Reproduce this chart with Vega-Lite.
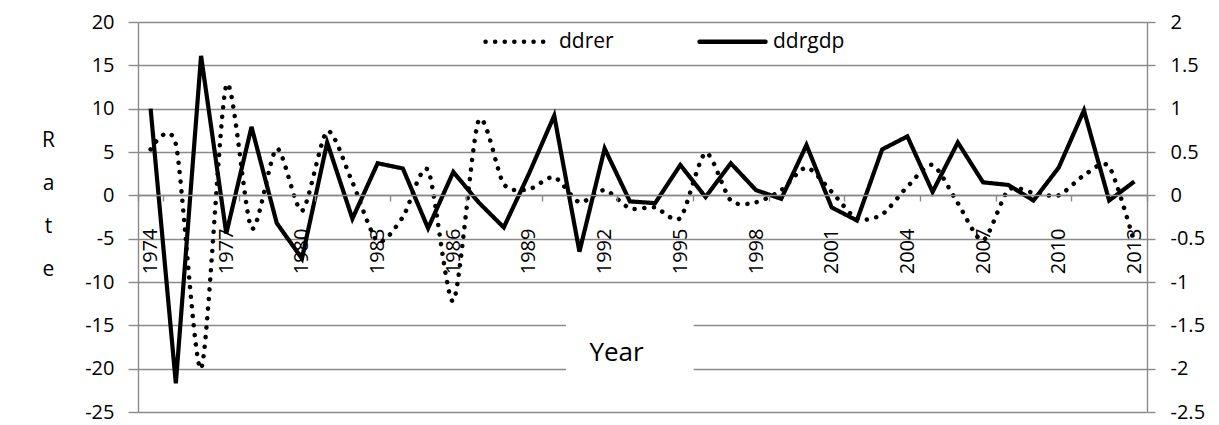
{
  "$schema": "https://vega.github.io/schema/vega-lite/v6.json",
  "width": 1009,
  "height": 390,
  "autosize": {"type": "none"},
  "padding": {"left": 138, "top": 22, "right": 72, "bottom": 13},
  "background": "white",
  "config": {
    "font": "Open Sans",
    "view": {"stroke": null},
    "axis": {
      "labelFont": "Open Sans",
      "labelFontSize": 20,
      "labelColor": "black",
      "titleFont": "Open Sans",
      "titleColor": "black",
      "titleFontWeight": "normal",
      "domainColor": "#8a8a8a",
      "tickColor": "#8a8a8a",
      "gridColor": "#8a8a8a",
      "gridOpacity": 1,
      "domainWidth": 1.4,
      "tickWidth": 1.4,
      "gridWidth": 1.4
    },
    "legend": {"labelFont": "Open Sans"}
  },
  "data": {
    "values": [
      {"year": 1974, "series": "ddrer", "value": 5.3}, {"year": 1974, "series": "ddrgdp", "value": 1.0},
      {"year": 1975, "series": "ddrer", "value": 5.9}, {"year": 1975, "series": "ddrgdp", "value": -2.17},
      {"year": 1976, "series": "ddrer", "value": -20.0}, {"year": 1976, "series": "ddrgdp", "value": 1.61},
      {"year": 1977, "series": "ddrer", "value": 12.7}, {"year": 1977, "series": "ddrgdp", "value": -0.44},
      {"year": 1978, "series": "ddrer", "value": -3.8}, {"year": 1978, "series": "ddrgdp", "value": 0.79},
      {"year": 1979, "series": "ddrer", "value": 5.4}, {"year": 1979, "series": "ddrgdp", "value": -0.32},
      {"year": 1980, "series": "ddrer", "value": -1.8}, {"year": 1980, "series": "ddrgdp", "value": -0.73},
      {"year": 1981, "series": "ddrer", "value": 7.4}, {"year": 1981, "series": "ddrgdp", "value": 0.61},
      {"year": 1982, "series": "ddrer", "value": 1.5}, {"year": 1982, "series": "ddrgdp", "value": -0.27},
      {"year": 1983, "series": "ddrer", "value": -5.3}, {"year": 1983, "series": "ddrgdp", "value": 0.37},
      {"year": 1984, "series": "ddrer", "value": -2.5}, {"year": 1984, "series": "ddrgdp", "value": 0.31},
      {"year": 1985, "series": "ddrer", "value": 2.9}, {"year": 1985, "series": "ddrgdp", "value": -0.38},
      {"year": 1986, "series": "ddrer", "value": -12.2}, {"year": 1986, "series": "ddrgdp", "value": 0.27},
      {"year": 1987, "series": "ddrer", "value": 8.6}, {"year": 1987, "series": "ddrgdp", "value": -0.08},
      {"year": 1988, "series": "ddrer", "value": 1.3}, {"year": 1988, "series": "ddrgdp", "value": -0.37},
      {"year": 1989, "series": "ddrer", "value": 0.7}, {"year": 1989, "series": "ddrgdp", "value": 0.25},
      {"year": 1990, "series": "ddrer", "value": 2.1}, {"year": 1990, "series": "ddrgdp", "value": 0.92},
      {"year": 1991, "series": "ddrer", "value": -0.8}, {"year": 1991, "series": "ddrgdp", "value": -0.65},
      {"year": 1992, "series": "ddrer", "value": 0.6}, {"year": 1992, "series": "ddrgdp", "value": 0.54},
      {"year": 1993, "series": "ddrer", "value": -1.5}, {"year": 1993, "series": "ddrgdp", "value": -0.07},
      {"year": 1994, "series": "ddrer", "value": -1.4}, {"year": 1994, "series": "ddrgdp", "value": -0.09},
      {"year": 1995, "series": "ddrer", "value": -2.6}, {"year": 1995, "series": "ddrgdp", "value": 0.35},
      {"year": 1996, "series": "ddrer", "value": 4.9}, {"year": 1996, "series": "ddrgdp", "value": -0.02},
      {"year": 1997, "series": "ddrer", "value": -0.6}, {"year": 1997, "series": "ddrgdp", "value": 0.37},
      {"year": 1998, "series": "ddrer", "value": -0.8}, {"year": 1998, "series": "ddrgdp", "value": 0.06},
      {"year": 1999, "series": "ddrer", "value": 0.6}, {"year": 1999, "series": "ddrgdp", "value": -0.04},
      {"year": 2000, "series": "ddrer", "value": 3.2}, {"year": 2000, "series": "ddrgdp", "value": 0.58},
      {"year": 2001, "series": "ddrer", "value": 0.4}, {"year": 2001, "series": "ddrgdp", "value": -0.14},
      {"year": 2002, "series": "ddrer", "value": -2.7}, {"year": 2002, "series": "ddrgdp", "value": -0.29},
      {"year": 2003, "series": "ddrer", "value": -2.2}, {"year": 2003, "series": "ddrgdp", "value": 0.53},
      {"year": 2004, "series": "ddrer", "value": 1.0}, {"year": 2004, "series": "ddrgdp", "value": 0.68},
      {"year": 2005, "series": "ddrer", "value": 3.5}, {"year": 2005, "series": "ddrgdp", "value": 0.04},
      {"year": 2006, "series": "ddrer", "value": -0.9}, {"year": 2006, "series": "ddrgdp", "value": 0.61},
      {"year": 2007, "series": "ddrer", "value": -5.2}, {"year": 2007, "series": "ddrgdp", "value": 0.15},
      {"year": 2008, "series": "ddrer", "value": 0.6}, {"year": 2008, "series": "ddrgdp", "value": 0.12},
      {"year": 2009, "series": "ddrer", "value": 0.3}, {"year": 2009, "series": "ddrgdp", "value": -0.06},
      {"year": 2010, "series": "ddrer", "value": 0.0}, {"year": 2010, "series": "ddrgdp", "value": 0.32},
      {"year": 2011, "series": "ddrer", "value": 2.3}, {"year": 2011, "series": "ddrgdp", "value": 0.98},
      {"year": 2012, "series": "ddrer", "value": 3.3}, {"year": 2012, "series": "ddrgdp", "value": -0.06},
      {"year": 2013, "series": "ddrer", "value": -5.5}, {"year": 2013, "series": "ddrgdp", "value": 0.16}
    ]
  },
  "encoding": {
    "x": {
      "field": "year",
      "type": "ordinal",
      "scale": {"type": "band", "paddingInner": 0, "paddingOuter": 0},
      "axis": {
        "values": [1974, 1977, 1980, 1983, 1986, 1989, 1992, 1995, 1998, 2001, 2004, 2007, 2010, 2013],
        "labelAngle": -90,
        "offset": -217,
        "tickBand": "extent",
        "tickSize": 6,
        "labelPadding": 27,
        "grid": false,
        "zindex": 1,
        "title": "Year",
        "titleFontSize": 26,
        "titleAnchor": "start",
        "titleAlign": "center",
        "titleBaseline": "middle",
        "titleX": 478,
        "titleY": 157
      }
    }
  },
  "layer": [
    {
      "layer": [
        {
          "transform": [
            {"filter": {"field": "series", "equal": "ddrer"}},
            {"filter": {"field": "year", "oneOf": [1991, 1992, 1993, 1994, 1995]}}
          ],
          "mark": {"type": "rect", "color": "white", "stroke": "white", "strokeWidth": 1.5},
          "encoding": {
            "y": {"datum": -14.4, "type": "quantitative", "scale": {"domain": [-25, 20]}},
            "y2": {"datum": -20.4}
          }
        },
        {
          "transform": [{"filter": {"field": "series", "equal": "ddrer"}}],
          "mark": {"type": "line", "color": "black", "strokeWidth": 4.5, "strokeCap": "round", "interpolate": "cardinal", "tension": 0.25},
          "encoding": {
            "y": {
              "field": "value",
              "type": "quantitative",
              "scale": {"domain": [-25, 20]},
              "axis": {
                "values": [-25, -20, -15, -10, -5, 0, 5, 10, 15, 20],
                "labelExpr": "datum.value + ''",
                "tickSize": 10,
                "labelPadding": 14,
                "grid": true,
                "title": ["R", "a", "t", "e"],
                "titleAngle": 0,
                "titleFontSize": 21,
                "titleLineHeight": 43,
                "titleAnchor": "start",
                "titleAlign": "center",
                "titleBaseline": "middle",
                "titleX": -90,
                "titleY": 118
              }
            },
            "strokeDash": {
              "field": "series",
              "type": "nominal",
              "scale": {"domain": ["ddrer", "ddrgdp"], "range": [[0.1, 9.5], [1, 0]]},
              "legend": {
                "title": null,
                "orient": "none",
                "legendX": 345,
                "legendY": -16,
                "direction": "horizontal",
                "symbolType": "stroke",
                "symbolSize": 4356,
                "symbolStrokeWidth": 4.5,
                "symbolStrokeColor": "black",
                "labelFontSize": 21,
                "labelColor": "black",
                "labelOffset": 5,
                "columnPadding": 76,
                "padding": 0,
                "encode": {"symbols": {"update": {"strokeCap": {"value": "round"}}}}
              }
            }
          }
        }
      ]
    },
    {
      "transform": [{"filter": {"field": "series", "equal": "ddrgdp"}}],
      "mark": {"type": "line", "color": "black", "strokeWidth": 4.2},
      "encoding": {
        "y": {
          "field": "value",
          "type": "quantitative",
          "scale": {"domain": [-2.5, 2]},
          "axis": {
            "orient": "right",
            "values": [-2.5, -2, -1.5, -1, -0.5, 0, 0.5, 1, 1.5, 2],
            "labelExpr": "datum.value + ''",
            "tickSize": 8,
            "labelPadding": 15,
            "grid": false,
            "title": null
          }
        },
        "strokeDash": {
          "field": "series",
          "type": "nominal",
          "scale": {"domain": ["ddrer", "ddrgdp"], "range": [[0.1, 9.5], [1, 0]]}
        }
      }
    }
  ],
  "resolve": {"scale": {"y": "independent"}}
}
